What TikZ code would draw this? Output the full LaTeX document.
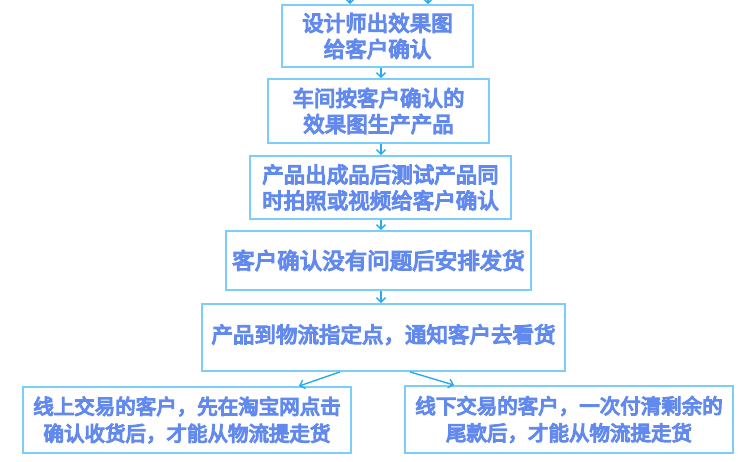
\documentclass[tikz,border=0pt]{standalone}
\usepackage{fontspec}
\setmainfont{Liberation Sans}
\newfontfamily\cjk{Noto Sans CJK SC}
\usetikzlibrary{arrows.meta,calc}
\definecolor{boxline}{RGB}{125,205,250}
\definecolor{txtblue}{RGB}{98,138,238}
\definecolor{arrblue}{RGB}{40,170,235}
\newcommand\heavytxt[1]{\special{pdf:literal 2 Tr 1.2 w}#1\special{pdf:literal 0 Tr 0.4 w}}
\begin{document}
\begin{tikzpicture}[x=1pt,y=-1pt,
  box/.style={draw=boxline, line width=1.8pt,
    fill=white, align=center, text=txtblue, inner sep=0pt,
    font=\cjk\fontsize{21.5}{26}\selectfont},
  arr/.style={draw=arrblue, line width=1.4pt, -{Straight Barb[length=4.5pt,width=9pt]}}
]
\useasboundingbox (0,0) rectangle (750,462);
\node[box, minimum width=191pt, minimum height=62pt] (b1) at (377.5,36) {\heavytxt{设计师出效果图\\给客户确认}};
\node[box, minimum width=221pt, minimum height=64pt] (b2) at (378.5,111) {\heavytxt{车间按客户确认的\\效果图生产产品}};
\node[box, minimum width=261pt, minimum height=63pt] (b3) at (380.5,187.5) {\heavytxt{产品出成品后测试产品同\\时拍照或视频给客户确认}};
\node[box, minimum width=305pt, minimum height=59pt, font=\cjk\fontsize{22.5}{26}\selectfont] (b4) at (378.5,260.5) {\heavytxt{客户确认没有问题后安排发货}};
\node[box, minimum width=363pt, minimum height=67pt, text depth=8pt] (b5) at (383.5,337.5) {\heavytxt{产品到物流指定点，通知客户去看货}};
\node[box, minimum width=328pt, minimum height=66pt, font=\cjk\fontsize{20.5}{27}\selectfont] (b6) at (187,420) {\heavytxt{线上交易的客户，先在淘宝网点击\\确认收货后，才能从物流提走货}};
\node[box, minimum width=328pt, minimum height=67pt, font=\cjk\fontsize{20.5}{27}\selectfont] (b7) at (569,419.5) {\heavytxt{线下交易的客户，一次付清剩余的\\尾款后，才能从物流提走货}};
\coordinate (ax) at (381,0);
\coordinate (t1) at (350,-12);
\coordinate (t2) at (428,-12);
\draw[arr] (t1) -- (t1 |- b1.north);
\draw[arr] (t2) -- (t2 |- b1.north);
\draw[arr] (b1.south -| ax) -- (b2.north -| ax);
\draw[arr] (b2.south -| ax) -- (b3.north -| ax);
\draw[arr] (b3.south -| ax) -- (b4.north -| ax);
\draw[arr] (b4.south -| ax) -- (b5.north -| ax);
\draw[arr] ([xshift=-43.5pt]b5.south) -- ([xshift=-53pt]b6.north east);
\draw[arr] ([xshift=26.5pt]b5.south) -- ([xshift=50pt]b7.north west);
\end{tikzpicture}
\end{document}
